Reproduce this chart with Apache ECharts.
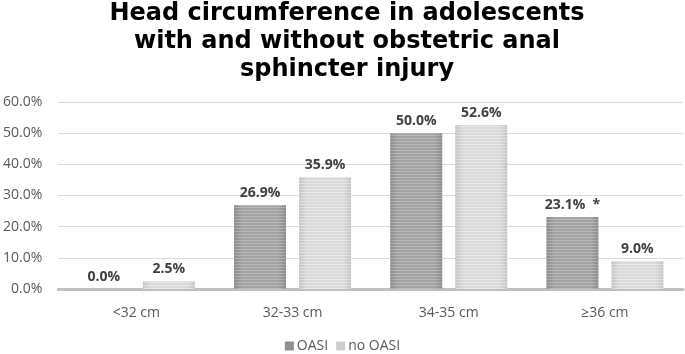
<!DOCTYPE html>
<html>
<head>
<meta charset="utf-8">
<script src="https://cdn.jsdelivr.net/npm/echarts@6/dist/echarts.min.js"></script>
<style>
  html, body { margin: 0; padding: 0; background: #fff; }
  #chart { width: 685px; height: 354px; }
</style>
</head>
<body>
<div id="chart"></div>
<script>
const categories = ["<32 cm", "32-33 cm", "34-35 cm", "\u226536 cm"];
const oasi = [0.0, 26.9, 50.0, 23.1];
const noOasi = [2.5, 35.9, 52.6, 9.0];
const oasiNotes = ["", "", "", "  *"];
const yTicks = [0, 10, 20, 30, 40, 50, 60];

const chart = echarts.init(document.getElementById("chart"), null, { renderer: "canvas" });

// horizontal shading like the original's embossed bars
const barFill = (edge, mid) => ({
  type: "linear", x: 0, y: 0, x2: 1, y2: 0,
  colorStops: [
    { offset: 0, color: edge },
    { offset: 0.15, color: mid },
    { offset: 0.85, color: mid },
    { offset: 1, color: edge },
  ],
});
const stripes = (color) => ({
  symbol: "rect",
  color: color,
  dashArrayX: [1, 0],
  dashArrayY: [1, 2],
  rotation: 0,
});

const labelStyle = {
  show: true,
  position: "top",
  distance: 5,
  color: "#404040",
  fontFamily: "Open Sans",
  fontWeight: "bold",
  fontSize: 14,
};

chart.setOption({
  animation: false,
  title: {
    text: "Head circumference in adolescents\nwith and without obstetric anal\nsphincter injury",
    left: 342,
    textAlign: "center",
    top: -5,
    textStyle: {
      fontFamily: "DejaVu Sans",
      fontWeight: "bold",
      fontSize: 24,
      lineHeight: 28,
      color: "#000",
    },
  },
  legend: {
    bottom: 1,
    left: "center",
    padding: [0, 5, 0, 5],
    itemWidth: 9,
    itemHeight: 9,
    itemGap: 8,
    icon: "rect",
    textStyle: { color: "#595959", fontSize: 14, fontFamily: "Open Sans", padding: [0, 0, 0, -2] },
    data: [
      { name: "OASI", itemStyle: { color: "#8f8f8f", decal: "none" } },
      { name: "no OASI", itemStyle: { color: "#cfcfcf", decal: "none" } },
    ],
  },
  grid: { left: 58, right: 2, top: 102, bottom: 65 },
  xAxis: {
    type: "category",
    data: categories,
    axisLine: { lineStyle: { color: "#bfbfbf", width: 3 } },
    axisTick: { show: false },
    axisLabel: { color: "#595959", fontSize: 14, margin: 17, fontFamily: "Open Sans" },
  },
  yAxis: {
    type: "value",
    min: yTicks[0],
    max: yTicks[yTicks.length - 1],
    interval: 10,
    axisLine: { show: false },
    axisTick: { show: false },
    splitLine: { lineStyle: { color: "#d9d9d9", width: 1 } },
    axisLabel: {
      color: "#595959",
      fontSize: 14,
      margin: 16,
      fontFamily: "Open Sans",
      formatter: (v) => v.toFixed(1) + "%",
    },
  },
  series: [
    {
      name: "OASI",
      type: "bar",
      barWidth: 52,
      barGap: "25%",
      data: oasi,
      itemStyle: { color: barFill("#8a8a8a", "#a3a3a3"), decal: stripes("rgba(255,255,255,0.25)") },
      label: {
        ...labelStyle,
        formatter: (p) => p.value.toFixed(1) + "%" + oasiNotes[p.dataIndex],
      },
    },
    {
      name: "no OASI",
      type: "bar",
      barWidth: 52,
      data: noOasi,
      itemStyle: { color: barFill("#c4c4c4", "#dadada"), decal: stripes("rgba(255,255,255,0.35)") },
      label: {
        ...labelStyle,
        formatter: (p) => p.value.toFixed(1) + "%",
      },
    },
  ],
});
</script>
</body>
</html>
